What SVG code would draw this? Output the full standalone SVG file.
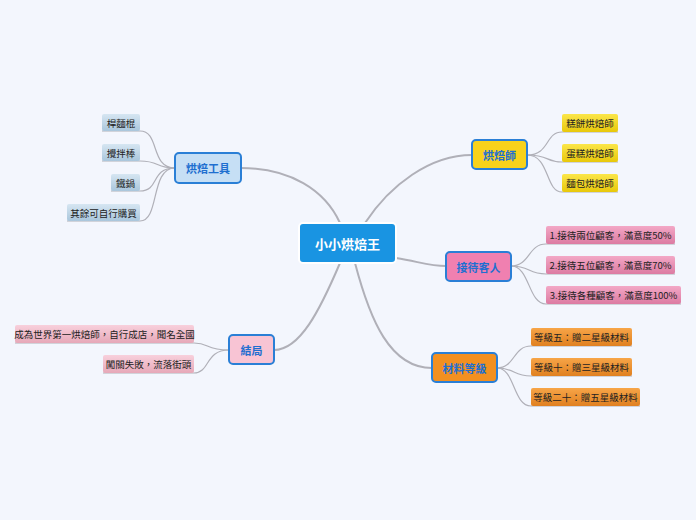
<svg xmlns="http://www.w3.org/2000/svg" width="696" height="520" viewBox="0 0 696 520">
<defs>
<linearGradient id="gb" x1="0" y1="0" x2="0" y2="1"><stop offset="0" stop-color="#d6e6f2"/><stop offset="1" stop-color="#a9c6dc"/></linearGradient>
<linearGradient id="gy" x1="0" y1="0" x2="0" y2="1"><stop offset="0" stop-color="#fbe64a"/><stop offset="1" stop-color="#e8c80a"/></linearGradient>
<linearGradient id="gp" x1="0" y1="0" x2="0" y2="1"><stop offset="0" stop-color="#f3a8c6"/><stop offset="1" stop-color="#dc7ba2"/></linearGradient>
<linearGradient id="go" x1="0" y1="0" x2="0" y2="1"><stop offset="0" stop-color="#f7a548"/><stop offset="1" stop-color="#e08020"/></linearGradient>
<linearGradient id="gl" x1="0" y1="0" x2="0" y2="1"><stop offset="0" stop-color="#f8d0dc"/><stop offset="1" stop-color="#e6a8b8"/></linearGradient>
</defs>
<style>
text{font-family:"Noto Sans CJK TC","Noto Sans CJK SC",sans-serif;text-anchor:middle;dominant-baseline:central}
.main{stroke:#2a7fd6;stroke-width:2}
.mt{fill:#1f6fd0;font-size:11px;font-weight:bold}
.lt{fill:#222;font-size:9.5px}
.c{fill:none;stroke:#b0b0b8;stroke-width:1.2}
.c2{fill:none;stroke:#b0b0b8;stroke-width:2}
</style>
<rect width="696" height="520" fill="#f3f6fd"/>
<g id="connectors">
<path class="c2" d="M340 223 C325 190 290 168 241 168"/>
<path class="c2" d="M365 223 C390 185 430 155 472 155"/>
<path class="c2" d="M396 258 C420 262 430 266 446 266"/>
<path class="c2" d="M355 263 C370 320 390 368 432 368"/>
<path class="c2" d="M340 263 C320 310 300 350 274 350"/>
<path class="c" d="M175 168 C150 168 160 131 140 131 L102 131"/>
<path class="c" d="M175 168 C155 168 160 161 140 161 L102 161"/>
<path class="c" d="M175 168 C150 168 160 191 140 191 L111 191"/>
<path class="c" d="M175 168 C150 168 160 221 140 221 L67 221"/>
<path class="c" d="M527 155 C550 155 545 132 562 132 L618 132"/>
<path class="c" d="M527 155 C550 155 545 162 562 162 L618 162"/>
<path class="c" d="M527 155 C550 155 545 192 562 192 L618 192"/>
<path class="c" d="M511 266 C530 266 528 244 546 244 L675 244"/>
<path class="c" d="M511 266 C530 266 528 274 546 274 L675 274"/>
<path class="c" d="M511 266 C530 266 528 304 546 304 L681 304"/>
<path class="c" d="M497 368 C515 368 513 346 531 346 L632 346"/>
<path class="c" d="M497 368 C515 368 513 376 531 376 L632 376"/>
<path class="c" d="M497 368 C515 368 513 406 531 406 L640 406"/>
<path class="c" d="M229 350 C205 350 210 343 194 343 L15 343"/>
<path class="c" d="M229 350 C205 350 210 373 194 373 L103 373"/>
</g>
<g id="center"><rect x="299" y="223" width="97" height="40" rx="4" fill="#1994e2" stroke="#fff" stroke-width="2"/><text x="347.5" y="243" fill="#fff" font-size="13" font-weight="bold">小小烘焙王</text></g>
<g id="tools"><rect class="main" x="175" y="153" width="66" height="30" rx="4" fill="#c6dff5"/><text class="mt" x="208" y="168">烘焙工具</text></g>
<g id="t1"><rect x="102" y="114" width="38" height="17" rx="2" fill="url(#gb)"/><text class="lt" x="121" y="122.5">桿麵棍</text></g>
<g id="t2"><rect x="102" y="144" width="38" height="17" rx="2" fill="url(#gb)"/><text class="lt" x="121" y="152.5">攪拌棒</text></g>
<g id="t3"><rect x="111" y="174" width="29" height="17" rx="2" fill="url(#gb)"/><text class="lt" x="125.5" y="182.5">鐵鍋</text></g>
<g id="t4"><rect x="67" y="204" width="73" height="17" rx="2" fill="url(#gb)"/><text class="lt" x="103.5" y="212.5">其餘可自行購買</text></g>
<g id="baker"><rect class="main" x="472" y="140" width="55" height="29" rx="4" fill="#f8d21a"/><text class="mt" x="499.5" y="154.5">烘焙師</text></g>
<g id="b1"><rect x="562" y="114" width="56" height="18" rx="2" fill="url(#gy)"/><text class="lt" x="590" y="123">糕餅烘焙師</text></g>
<g id="b2"><rect x="562" y="144" width="56" height="18" rx="2" fill="url(#gy)"/><text class="lt" x="590" y="153">蛋糕烘焙師</text></g>
<g id="b3"><rect x="562" y="174" width="56" height="18" rx="2" fill="url(#gy)"/><text class="lt" x="590" y="183">麵包烘焙師</text></g>
<g id="guest"><rect class="main" x="446" y="252" width="65" height="29" rx="4" fill="#f080b0"/><text class="mt" x="478.5" y="266.5">接待客人</text></g>
<g id="g1"><rect x="546" y="226" width="129" height="18" rx="2" fill="url(#gp)"/><text class="lt" x="610.5" y="235">1.接待兩位顧客，滿意度50%</text></g>
<g id="g2"><rect x="546" y="256" width="129" height="18" rx="2" fill="url(#gp)"/><text class="lt" x="610.5" y="265">2.接待五位顧客，滿意度70%</text></g>
<g id="g3"><rect x="546" y="286" width="135" height="18" rx="2" fill="url(#gp)"/><text class="lt" x="613.5" y="295">3.接待各種顧客，滿意度100%</text></g>
<g id="level"><rect class="main" x="432" y="353" width="65" height="29" rx="4" fill="#f39020"/><text class="mt" x="464.5" y="367.5">材料等級</text></g>
<g id="l1"><rect x="531" y="328" width="101" height="18" rx="2" fill="url(#go)"/><text class="lt" x="581.5" y="337">等級五：贈二星級材料</text></g>
<g id="l2"><rect x="531" y="358" width="101" height="18" rx="2" fill="url(#go)"/><text class="lt" x="581.5" y="367">等級十：贈三星級材料</text></g>
<g id="l3"><rect x="531" y="388" width="109" height="18" rx="2" fill="url(#go)"/><text class="lt" x="585.5" y="397">等級二十：贈五星級材料</text></g>
<g id="end"><rect class="main" x="229" y="335" width="45" height="29" rx="4" fill="#f8c4d4"/><text class="mt" x="251.5" y="349.5">結局</text></g>
<g id="e1"><rect x="15" y="325" width="179" height="18" rx="2" fill="url(#gl)"/><text class="lt" x="104.5" y="334">成為世界第一烘焙師，自行成店，聞名全國</text></g>
<g id="e2"><rect x="103" y="355" width="91" height="18" rx="2" fill="url(#gl)"/><text class="lt" x="148.5" y="364">闖關失敗，流落街頭</text></g>
</svg>
